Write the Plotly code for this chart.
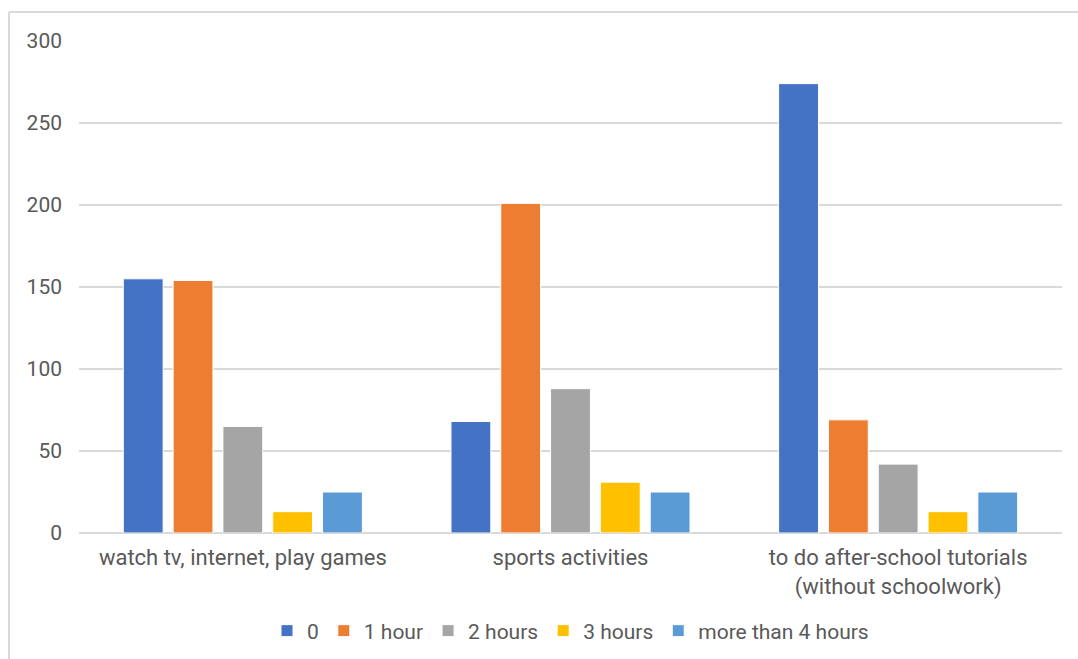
import plotly.graph_objects as go

categories = ["watch tv, internet, play games", "sports activities",
              "to do after-school tutorials<br>(without schoolwork)"]
series_names = ["0", "1 hour", "2 hours", "3 hours", "more than 4 hours"]
values_0 = [155, 68, 274]
values_1h = [154, 201, 69]
values_2h = [65, 88, 42]
values_3h = [13, 31, 13]
values_4h = [25, 25, 25]
colors = ["#4472C4", "#ED7D31", "#A5A5A5", "#FFC000", "#5B9BD5"]
y_ticks = [0, 50, 100, 150, 200, 250, 300]

series_values = [values_0, values_1h, values_2h, values_3h, values_4h]

fig = go.Figure()
for name, vals, col in zip(series_names, series_values, colors):
    fig.add_trace(go.Bar(
        x=categories, y=vals, name=name,
        marker=dict(color=col, line=dict(color="white", width=1)),
    ))

text_font = dict(family="Roboto, sans-serif", size=21, color="#595959")
x_font = dict(family="Roboto, sans-serif", size=22, color="#595959")

# chart frame (top and left edges of the chart area)
W, H = 1078, 659
L, R, T, B = 79, 16, 41, 126
pw, ph = W - L - R, H - T - B
def px_x(x):
    return (x - L) / pw
def px_y(y):
    return (H - B - y) / ph

fig.update_layout(
    width=W, height=H,
    margin=dict(l=L, r=R, t=T, b=B, autoexpand=False),
    plot_bgcolor="white", paper_bgcolor="white",
    barmode="group", bargap=0.24, bargroupgap=0.2,
    font=text_font,
    showlegend=True,
    legend=dict(orientation="h", x=0.5, xanchor="center", y=px_y(631), yanchor="middle",
                font=text_font, itemwidth=30, traceorder="normal"),
    xaxis=dict(showgrid=False, showline=False, ticks="", tickfont=x_font,
               ticklabelstandoff=9, automargin=False),
    yaxis=dict(range=[0, 300], tickvals=y_ticks, showgrid=True, gridcolor="#D9D9D9",
               gridwidth=1.5, zeroline=True, zerolinecolor="#D9D9D9", zerolinewidth=1.5,
               showline=False, ticks="", tickfont=text_font, ticklabelstandoff=16,
               automargin=False),
    shapes=[
        dict(type="line", xref="paper", yref="paper", x0=px_x(9), x1=px_x(1090),
             y0=px_y(12), y1=px_y(12), line=dict(color="#D9D9D9", width=2)),
        dict(type="line", xref="paper", yref="paper", x0=px_x(9), x1=px_x(9),
             y0=px_y(12), y1=px_y(670), line=dict(color="#D9D9D9", width=2)),
    ],
)

fig.write_html("out.html")
